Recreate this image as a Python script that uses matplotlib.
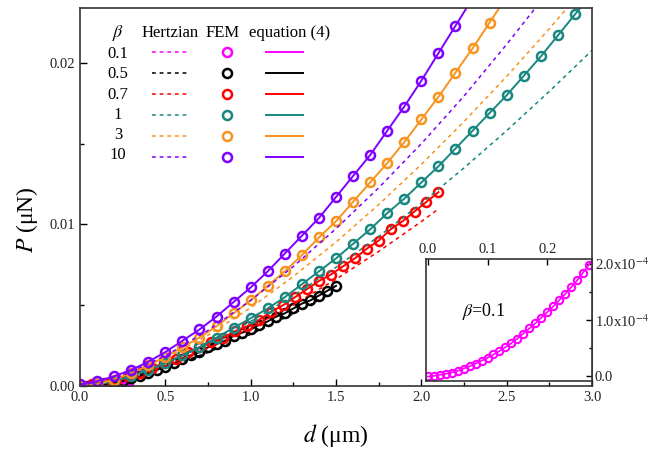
"""Load P versus indentation depth d: Hertzian, FEM and equation (4) for several beta."""

import matplotlib.pyplot as plt
from matplotlib.lines import Line2D
from matplotlib.ticker import MultipleLocator

plt.rcParams['font.family'] = ['Liberation Serif', 'DejaVu Serif']
plt.rcParams['mathtext.fontset'] = 'stix'

betas = ['0.1', '0.5', '0.7', '1', '3', '10']
colors = ['#FF00FF', '#000000', '#FF0000', '#17877F', '#F7931E', '#7F00FF']

# FEM results (also traced by equation (4))
d_fem_01 = [0.00, 0.01, 0.02, 0.03, 0.04, 0.05, 0.06, 0.07, 0.08, 0.09, 0.10, 0.11, 0.12, 0.13,
            0.14, 0.15, 0.16, 0.17, 0.18, 0.19, 0.20, 0.21, 0.22, 0.23, 0.24, 0.25, 0.26, 0.27, 0.28]
p_fem_01 = [0.00e-4, 0.01e-4, 0.03e-4, 0.05e-4, 0.07e-4, 0.10e-4, 0.14e-4, 0.18e-4, 0.23e-4, 0.28e-4,
            0.33e-4, 0.39e-4, 0.45e-4, 0.52e-4, 0.59e-4, 0.67e-4, 0.76e-4, 0.85e-4, 0.94e-4, 1.04e-4,
            1.14e-4, 1.24e-4, 1.35e-4, 1.46e-4, 1.58e-4, 1.70e-4, 1.84e-4, 1.98e-4, 2.12e-4]

d_fem_05 = [0.00, 0.05, 0.10, 0.15, 0.20, 0.25, 0.30, 0.35, 0.40, 0.45, 0.50, 0.55, 0.60, 0.65, 0.70, 0.75,
            0.80, 0.85, 0.90, 0.95, 1.00, 1.05, 1.10, 1.15, 1.20, 1.25, 1.30, 1.35, 1.40, 1.45, 1.50]
p_fem_05 = [0.0000, 0.0000, 0.0001, 0.0001, 0.0002, 0.0003, 0.0005, 0.0006, 0.0008, 0.0010, 0.0012,
            0.0014, 0.0017, 0.0019, 0.0021, 0.0024, 0.0026, 0.0028, 0.0031, 0.0033, 0.0035, 0.0038,
            0.0040, 0.0043, 0.0045, 0.0048, 0.0051, 0.0053, 0.0056, 0.0059, 0.0062]

d_fem_07 = [0.00, 0.07, 0.14, 0.21, 0.28, 0.35, 0.42, 0.49, 0.56, 0.63, 0.70, 0.77, 0.84, 0.91, 0.98, 1.05,
            1.12, 1.19, 1.26, 1.33, 1.40, 1.47, 1.54, 1.61, 1.68, 1.75, 1.82, 1.89, 1.96, 2.03, 2.10]
p_fem_07 = [0.0000, 0.0001, 0.0002, 0.0004, 0.0006, 0.0008, 0.0011, 0.0014, 0.0017, 0.0021, 0.0024,
            0.0027, 0.0030, 0.0034, 0.0037, 0.0041, 0.0046, 0.0050, 0.0055, 0.0060, 0.0065, 0.0069,
            0.0074, 0.0079, 0.0085, 0.0090, 0.0097, 0.0102, 0.0108, 0.0114, 0.0120]

d_fem_1 = [0.0, 0.1, 0.2, 0.3, 0.4, 0.5, 0.6, 0.7, 0.8, 0.9, 1.0, 1.1, 1.2, 1.3, 1.4, 1.5,
           1.6, 1.7, 1.8, 1.9, 2.0, 2.1, 2.2, 2.3, 2.4, 2.5, 2.6, 2.7, 2.8, 2.9, 3.0]
p_fem_1 = [0.0000, 0.0001, 0.0003, 0.0006, 0.0010, 0.0014, 0.0019, 0.0024, 0.0030, 0.0036, 0.0042,
           0.0048, 0.0055, 0.0063, 0.0071, 0.0079, 0.0088, 0.0097, 0.0107, 0.0116, 0.0126, 0.0136,
           0.0147, 0.0158, 0.0169, 0.0180, 0.0192, 0.0204, 0.0217, 0.0230, 0.0243]

d_fem_3 = [0.0, 0.1, 0.2, 0.3, 0.4, 0.5, 0.6, 0.7, 0.8, 0.9, 1.0, 1.1, 1.2, 1.3,
           1.4, 1.5, 1.6, 1.7, 1.8, 1.9, 2.0, 2.1, 2.2, 2.3, 2.4, 2.5]
p_fem_3 = [0.0000, 0.0001, 0.0004, 0.0008, 0.0013, 0.0018, 0.0024, 0.0030, 0.0037, 0.0045, 0.0053,
           0.0062, 0.0071, 0.0081, 0.0092, 0.0102, 0.0114, 0.0126, 0.0138, 0.0151, 0.0165, 0.0179,
           0.0194, 0.0209, 0.0225, 0.0241]

d_fem_10 = [0.0, 0.1, 0.2, 0.3, 0.4, 0.5, 0.6, 0.7, 0.8, 0.9, 1.0, 1.1,
            1.2, 1.3, 1.4, 1.5, 1.6, 1.7, 1.8, 1.9, 2.0, 2.1, 2.2, 2.3]
p_fem_10 = [0.0001, 0.0003, 0.0006, 0.0010, 0.0015, 0.0021, 0.0028, 0.0035, 0.0043, 0.0052, 0.0061,
            0.0071, 0.0082, 0.0093, 0.0104, 0.0117, 0.0130, 0.0143, 0.0158, 0.0173, 0.0189, 0.0206,
            0.0223, 0.0240]

# Hertzian solutions
d_hz_01 = [0.0, 0.1, 0.2, 0.3]
p_hz_01 = [0.0, 0.3e-4, 1.0e-4, 2.3e-4]
d_hz_05 = [0.0, 0.25, 0.5, 0.75, 1.0, 1.25, 1.5]
p_hz_05 = [0.0, 0.0004, 0.00113, 0.00208, 0.0032, 0.00447, 0.00588]
d_hz_07 = [0.0, 0.25, 0.5, 0.75, 1.0, 1.25, 1.5, 1.75, 2.0, 2.1]
p_hz_07 = [0.0, 0.00045, 0.00127, 0.00234, 0.0036, 0.00503, 0.00661, 0.00833, 0.01018, 0.01096]
d_hz_1 = [0.0, 0.25, 0.5, 0.75, 1.0, 1.25, 1.5, 1.75, 2.0, 2.25, 2.5, 2.75, 3.0]
p_hz_1 = [0.0, 0.0005, 0.00141, 0.0026, 0.004, 0.00559, 0.00735, 0.00926, 0.01131, 0.0135,
          0.01581, 0.01824, 0.02078]
d_hz_3 = [0.0, 0.25, 0.5, 0.75, 1.0, 1.25, 1.5, 1.75, 2.0, 2.25, 2.5, 2.75, 3.0]
p_hz_3 = [0.0, 0.00061, 0.00171, 0.00315, 0.00485, 0.00678, 0.00891, 0.01123, 0.01372, 0.01637,
          0.01917, 0.02212, 0.0252]
d_hz_10 = [0.0, 0.25, 0.5, 0.75, 1.0, 1.25, 1.5, 1.75, 2.0, 2.25, 2.5, 2.75]
p_hz_10 = [0.0, 0.00066, 0.00187, 0.00344, 0.0053, 0.0074, 0.00974, 0.01227, 0.0150, 0.01795,
           0.02115, 0.02450]

fem = [(d_fem_01, p_fem_01), (d_fem_05, p_fem_05), (d_fem_07, p_fem_07),
       (d_fem_1, p_fem_1), (d_fem_3, p_fem_3), (d_fem_10, p_fem_10)]
hertz = [(d_hz_01, p_hz_01), (d_hz_05, p_hz_05), (d_hz_07, p_hz_07),
         (d_hz_1, p_hz_1), (d_hz_3, p_hz_3), (d_hz_10, p_hz_10)]

fig = plt.figure(figsize=(6.48, 4.5), dpi=100)
ax = fig.add_axes([0.1235, 0.1422, 0.7901, 0.84])

for (dh, ph), (df, pf), c in zip(hertz, fem, colors):
    ax.plot(dh, ph, color=c, lw=1.1, dashes=(2.5, 2.5))
    ax.plot(df, pf, color=c, lw=1.4)
    ax.plot(df, pf, ls='none', marker='o', ms=6.5, mfc='none', mec=c, mew=1.8)

ax.set_xlim(0, 3.0)
ax.set_ylim(0, 0.0234)
ax.xaxis.set_major_locator(MultipleLocator(0.5))
ax.xaxis.set_minor_locator(MultipleLocator(0.25))
ax.yaxis.set_major_locator(MultipleLocator(0.01))
ax.yaxis.set_minor_locator(MultipleLocator(0.005))
ax.xaxis.set_major_formatter(plt.FormatStrFormatter('%.1f'))
ax.yaxis.set_major_formatter(plt.FormatStrFormatter('%.2f'))
ax.tick_params(which='both', direction='in', labelsize=10.5, width=1.0, labelcolor='#222222')
ax.tick_params(which='major', length=5)
ax.tick_params(which='minor', length=3)
for s in ax.spines.values():
    s.set_linewidth(1.2)
    s.set_color('#333333')
ax.set_xlabel('$d$ (μm)', fontsize=17, labelpad=13)
ax.set_ylabel('$P$ (μN)', fontsize=17, labelpad=7, y=0.44)

# legend table
handles = ([Line2D([], [], color=c, lw=1.1, dashes=(2.5, 2.5)) for c in colors]
           + [Line2D([], [], ls='none', marker='o', ms=6.5, mfc='none', mec=c, mew=1.8) for c in colors]
           + [Line2D([], [], color=c, lw=1.4) for c in colors])
ax.legend(handles, [''] * 18, ncol=3, loc='upper left', bbox_to_anchor=(0.140, 0.900),
          frameon=False, fontsize=12, handlelength=2.2, handletextpad=0, columnspacing=1.23,
          borderpad=0, borderaxespad=0, labelspacing=0.3)
ax.text(0.074, 0.934, r'$\beta$', transform=ax.transAxes, ha='center', va='center', fontsize=13)
ax.text(0.176, 0.934, 'Hertzian', transform=ax.transAxes, ha='center', va='center', fontsize=12)
ax.text(0.279, 0.934, 'FEM', transform=ax.transAxes, ha='center', va='center', fontsize=12)
ax.text(0.410, 0.934, 'equation (4)', transform=ax.transAxes, ha='center', va='center', fontsize=12)
for i, b in enumerate(betas):
    ax.text(0.074, 0.878 - i * 0.0536, b, transform=ax.transAxes, ha='center', va='center', fontsize=12)

# inset, beta = 0.1
axin = fig.add_axes([0.6574, 0.1533, 0.2562, 0.2711])
axin.plot(d_fem_01, p_fem_01, color=colors[0], lw=1.2)
axin.plot(d_fem_01, p_fem_01, ls='none', marker='o', ms=5.3, mfc='none', mec=colors[0], mew=1.5)
axin.set_xlim(-0.003, 0.275)
axin.set_ylim(-0.08e-4, 2.08e-4)
axin.xaxis.tick_top()
axin.yaxis.tick_right()
axin.xaxis.set_major_locator(MultipleLocator(0.1))
axin.xaxis.set_major_formatter(plt.FormatStrFormatter('%.1f'))
axin.yaxis.set_minor_locator(MultipleLocator(0.5e-4))
axin.set_yticks([0, 1e-4, 2e-4], ['0.0', r'1.0x10$^{-4}$', r'2.0x10$^{-4}$'])
axin.tick_params(which='both', direction='in', labelsize=10.5, width=1.0, pad=2, labelcolor='#222222')
axin.tick_params(which='major', length=4)
axin.tick_params(which='minor', length=2.5)
for s in axin.spines.values():
    s.set_linewidth(1.2)
    s.set_color('#333333')
axin.text(0.094, 1.15e-4, r'$\beta$=0.1', ha='center', va='center', fontsize=13)

fig.savefig('out.png', dpi=100)
